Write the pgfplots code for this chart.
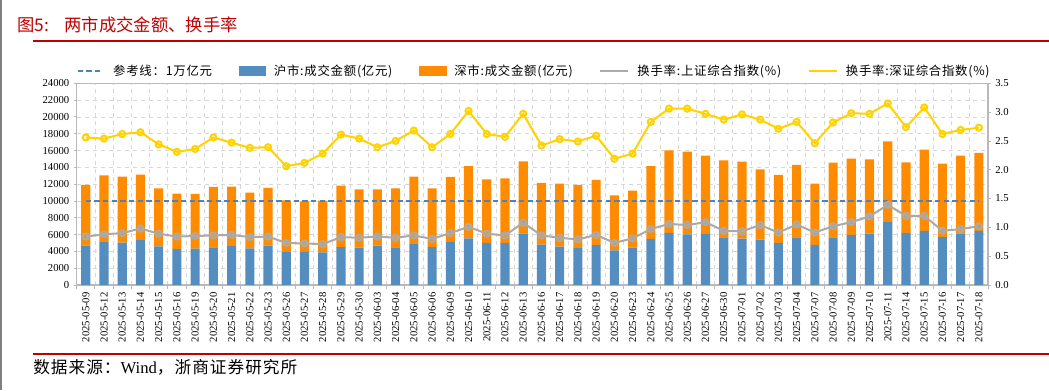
\documentclass[border=0pt]{standalone}
\usepackage{pgfplots}
\pgfplotsset{compat=1.18}
\usepackage{pgfplotstable}
\usepackage{fontspec}
\setmainfont{Liberation Serif}
\newfontfamily\cjk{Noto Sans CJK SC}
\newfontfamily\cjkwide[LetterSpace=6]{Noto Sans CJK SC}
\definecolor{shblue}{RGB}{84,141,192}
\definecolor{szorange}{RGB}{255,140,0}
\definecolor{grayline}{RGB}{170,170,170}
\definecolor{yline}{RGB}{255,210,0}
\definecolor{refblue}{RGB}{79,129,189}
\definecolor{gridcol}{RGB}{215,215,215}
\definecolor{axiscol}{RGB}{185,185,185}
\definecolor{titlered}{RGB}{192,0,0}

\pgfplotstableread{
x sh sz tg ty
0 4680 7220 0.84 2.56
1 5200 7850 0.88 2.54
2 5040 7860 0.90 2.62
3 5360 7770 0.98 2.65
4 4600 6900 0.89 2.44
5 4290 6580 0.84 2.31
6 4330 6500 0.85 2.36
7 4480 7190 0.86 2.56
8 4640 7060 0.87 2.47
9 4370 6630 0.83 2.38
10 4680 6870 0.84 2.39
11 4000 6080 0.73 2.06
12 3930 6030 0.72 2.12
13 3890 6150 0.71 2.28
14 4520 7310 0.83 2.61
15 4440 6950 0.82 2.54
16 4680 6710 0.84 2.39
17 4480 7020 0.82 2.50
18 4960 7940 0.86 2.68
19 4520 6980 0.80 2.39
20 5120 7740 0.90 2.62
21 5560 8570 1.01 3.02
22 5000 7580 0.89 2.62
23 5000 7700 0.86 2.57
24 6110 8610 1.08 2.97
25 4800 7340 0.86 2.42
26 4560 7500 0.82 2.53
27 4400 7500 0.79 2.49
28 4760 7740 0.87 2.59
29 4130 6540 0.73 2.19
30 4440 6790 0.81 2.28
31 5480 8650 0.97 2.83
32 6190 9840 1.06 3.06
33 6030 9840 1.04 3.06
34 6070 9330 1.09 2.97
35 5670 9170 0.94 2.87
36 5520 9160 0.93 2.96
37 5400 8370 1.04 2.87
38 5000 8100 0.91 2.71
39 5670 8620 1.05 2.83
40 4760 7300 0.91 2.46
41 5670 8890 1.02 2.82
42 5950 9090 1.09 2.98
43 6110 8850 1.19 2.97
44 7500 9600 1.39 3.15
45 6190 8410 1.20 2.74
46 6430 9680 1.20 3.08
47 5710 8730 0.94 2.62
48 6110 9290 0.97 2.69
49 6430 9280 1.02 2.73
}\data

\pgfplotsset{common/.style={scale only axis, width=683.5pt, height=151.3pt,
  xmin=-0.5, xmax=49.5, at={(57.5pt,78.75pt)}, anchor=south west,
  axis line style={draw=axiscol, line width=0.8pt}, tick style={draw=axiscol, line width=0.6pt},
  tick align=outside, major tick length=2pt, minor tick length=3pt,
  /pgf/number format/assume math mode=true,
  tick label style={font=\fontsize{8}{9}\selectfont}}}

\begin{document}
\begin{tikzpicture}
\useasboundingbox (0,0) rectangle (786.75pt,292.5pt);
\fill[white] (0,0) rectangle (786.75pt,292.5pt);
\draw[gray, line width=1.2pt] (0.6pt,0) -- (0.6pt,292.5pt);
\node[anchor=west, inner sep=0pt, text=titlered, font=\cjk\fontsize{13}{15}\selectfont] at (12.75pt,273.5pt) {图5:\hspace{0.9em}两市成交金额、换手率};
\draw[titlered, line width=0.9pt] (24.75pt,261.75pt) -- (786.75pt,261.75pt);
\draw[titlered, line width=0.9pt] (24.75pt,27pt) -- (786.75pt,27pt);
\node[anchor=west, inner sep=0pt, font=\cjkwide\fontsize{12.5}{14}\selectfont] at (24.75pt,17.25pt) {数据来源：{\rmfamily Wind}，浙商证券研究所};

\begin{axis}[common,
  ymin=0, ymax=24000, ytick={0,2000,...,24000},
  ybar stacked, bar width=0.5,
  xtick={0,...,49},
  xticklabels={2025-05-09,2025-05-12,2025-05-13,2025-05-14,2025-05-15,2025-05-16,2025-05-19,2025-05-20,2025-05-21,2025-05-22,2025-05-23,2025-05-26,2025-05-27,2025-05-28,2025-05-29,2025-05-30,2025-06-03,2025-06-04,2025-06-05,2025-06-06,2025-06-09,2025-06-10,2025-06-11,2025-06-12,2025-06-13,2025-06-16,2025-06-17,2025-06-18,2025-06-19,2025-06-20,2025-06-23,2025-06-24,2025-06-25,2025-06-26,2025-06-27,2025-06-30,2025-07-01,2025-07-02,2025-07-03,2025-07-04,2025-07-07,2025-07-08,2025-07-09,2025-07-10,2025-07-11,2025-07-14,2025-07-15,2025-07-16,2025-07-17,2025-07-18},
  minor xtick={-0.5,0.5,...,49.5},
  xminorgrids=true, xmajorgrids=false, ymajorgrids=true,
  every major x tick/.append style={draw=none},
  grid style={gridcol, dash pattern=on 3pt off 3pt, line width=0.5pt},
  ytick pos=left, xtick pos=bottom,
  scaled y ticks=false,
  yticklabel style={/pgf/number format/1000 sep={}},
  xticklabel style={rotate=90, anchor=east},
]
\addplot[fill=shblue, draw=none] table[x=x, y=sh]{\data};
\addplot[fill=szorange, draw=none] table[x=x, y=sz]{\data};
\end{axis}

\begin{axis}[common, ymin=0, ymax=24000, hide axis]
\addplot[refblue, line width=1.2pt, dash pattern=on 4pt off 2.5pt] coordinates {(0,10000) (49,10000)};
\end{axis}

\begin{axis}[common, ymin=0, ymax=3.5, ytick={0,0.5,...,3.5},
  axis y line*=right, axis x line=none,
  yticklabel style={/pgf/number format/.cd, fixed, fixed zerofill, precision=1},
  legend columns=5,
  legend style={at={(0.0,1.061)}, anchor=west, draw=none, fill=none, inner sep=0pt,
    font=\cjkwide\fontsize{9.3}{10}\selectfont,
    /tikz/every even column/.append style={column sep=18pt}},
]
\addlegendimage{legend image code/.code={\draw[refblue, line width=1.2pt, dash pattern=on 4pt off 2.5pt] (0pt,0pt) -- (17pt,0pt);}}
\addlegendentry{\hspace{7pt}参考线：1万亿元}
\addlegendimage{legend image code/.code={\fill[shblue] (0pt,-3.5pt) rectangle (20pt,3.5pt);}}
\addlegendentry{\hspace{4pt}沪市:成交金额(亿元)}
\addlegendimage{legend image code/.code={\fill[szorange] (0pt,-3.5pt) rectangle (20pt,3.5pt);}}
\addlegendentry{\hspace{4pt}深市:成交金额(亿元)}
\addlegendimage{legend image code/.code={\draw[grayline, line width=1.5pt] (0pt,0pt) -- (21pt,0pt);}}
\addlegendentry{\hspace{4pt}换手率:上证综合指数(\%)}
\addlegendimage{legend image code/.code={\draw[yline, line width=1.5pt] (0pt,0pt) -- (21pt,0pt);}}
\addlegendentry{\hspace{4pt}换手率:深证综合指数(\%)}
\addplot[grayline, line width=1.5pt, mark=o, mark size=2.3pt, forget plot] table[x=x, y=tg]{\data};
\addplot[yline, line width=1.5pt, mark=o, mark size=2.3pt, forget plot] table[x=x, y=ty]{\data};
\end{axis}
\end{tikzpicture}
\end{document}
